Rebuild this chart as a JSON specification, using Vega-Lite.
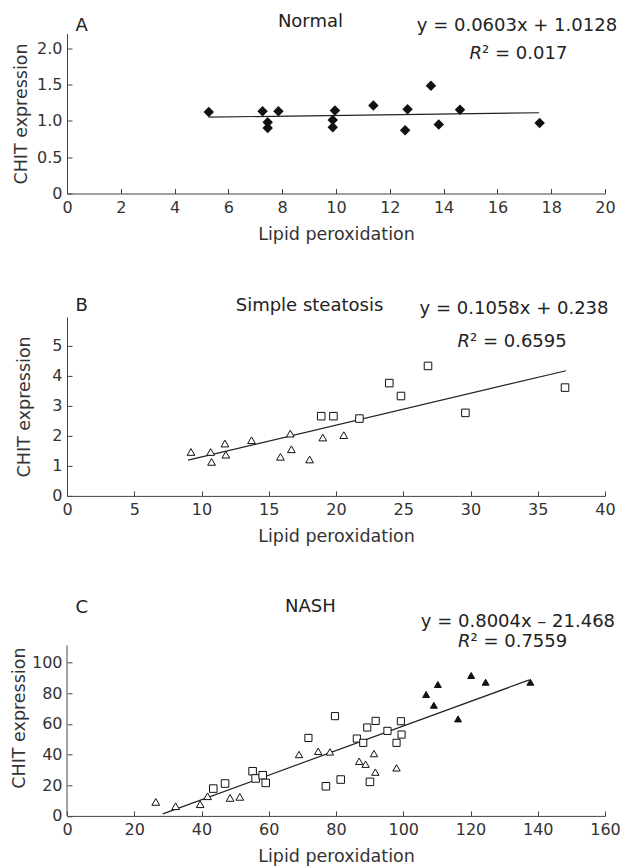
{
  "$schema": "https://vega.github.io/schema/vega-lite/v6.json",
  "background": "white",
  "padding": {"left": 10, "top": 12.5, "right": 0, "bottom": 0},
  "spacing": 123.4,
  "bounds": "flush",
  "config": {
    "font": "DejaVu Sans",
    "view": {"stroke": null},
    "axis": {
      "grid": false,
      "domainColor": "#444",
      "tickColor": "#444",
      "labelColor": "#333",
      "titleColor": "#333",
      "labelFont": "DejaVu Sans",
      "titleFont": "DejaVu Sans",
      "labelFontSize": 16,
      "titleFontSize": 17.5,
      "titleFontWeight": "normal",
      "tickSize": -5,
      "domainWidth": 1,
      "tickWidth": 1,
      "labelFlush": false,
      "labelOverlap": false
    },
    "axisX": {"labelPadding": 11, "titlePadding": 10},
    "axisY": {"labelPadding": 10}
  },
  "datasets": {
    "normal": [
      {"x": 5.27, "y": 1.12}, {"x": 7.27, "y": 1.13}, {"x": 7.46, "y": 0.98}, {"x": 7.46, "y": 0.9},
      {"x": 7.86, "y": 1.13}, {"x": 9.88, "y": 1.01}, {"x": 9.88, "y": 0.91}, {"x": 9.96, "y": 1.14},
      {"x": 11.39, "y": 1.21}, {"x": 12.57, "y": 0.87}, {"x": 12.66, "y": 1.16}, {"x": 13.53, "y": 1.48},
      {"x": 13.82, "y": 0.95}, {"x": 14.61, "y": 1.15}, {"x": 17.57, "y": 0.97}
    ],
    "fitA": [{"x": 5.27, "y": 1.05}, {"x": 17.55, "y": 1.11}],
    "notesA": [
      {"role": "letter", "x": 0.32, "y": 2.24, "t": "A"},
      {"role": "title", "x": 9.05, "y": 2.29, "t": "Normal"},
      {"role": "eq", "x": 20.45, "y": 2.24, "t": "y = 0.0603x + 1.0128"},
      {"role": "r", "x": 15.43, "y": 1.845, "t": "R"},
      {"role": "rest", "x": 15.43, "y": 1.845, "t": "² = 0.017"}
    ],
    "steatosis": [
      {"g": "tri", "x": 9.22, "y": 1.46}, {"g": "tri", "x": 10.68, "y": 1.46}, {"g": "tri", "x": 10.75, "y": 1.13},
      {"g": "tri", "x": 11.74, "y": 1.74}, {"g": "tri", "x": 11.81, "y": 1.37}, {"g": "tri", "x": 13.72, "y": 1.85},
      {"g": "tri", "x": 15.87, "y": 1.3}, {"g": "tri", "x": 16.6, "y": 2.07}, {"g": "tri", "x": 16.68, "y": 1.55},
      {"g": "tri", "x": 18.04, "y": 1.21}, {"g": "tri", "x": 19.02, "y": 1.94}, {"g": "tri", "x": 20.58, "y": 2.02},
      {"g": "sq", "x": 18.9, "y": 2.65}, {"g": "sq", "x": 19.81, "y": 2.65}, {"g": "sq", "x": 21.74, "y": 2.57},
      {"g": "sq", "x": 23.96, "y": 3.75}, {"g": "sq", "x": 24.83, "y": 3.32}, {"g": "sq", "x": 26.84, "y": 4.32},
      {"g": "sq", "x": 29.62, "y": 2.76}, {"g": "sq", "x": 37.03, "y": 3.6}
    ],
    "fitB": [{"x": 9.0, "y": 1.19}, {"x": 37.1, "y": 4.16}],
    "notesB": [
      {"role": "letter", "x": 0.63, "y": 6.14, "t": "B"},
      {"role": "title", "x": 18.03, "y": 6.16, "t": "Simple steatosis"},
      {"role": "eq", "x": 40.26, "y": 6.04, "t": "y = 0.1058x + 0.238"},
      {"role": "r", "x": 29.96, "y": 4.95, "t": "R"},
      {"role": "rest", "x": 29.96, "y": 4.95, "t": "² = 0.6595"}
    ],
    "nash": [
      {"g": "tri", "x": 26.4, "y": 9.1}, {"g": "tri", "x": 32.3, "y": 6.3}, {"g": "tri", "x": 39.6, "y": 7.6},
      {"g": "tri", "x": 41.8, "y": 12.8}, {"g": "tri", "x": 48.5, "y": 11.7}, {"g": "tri", "x": 51.4, "y": 12.4},
      {"g": "sq", "x": 43.5, "y": 17.8}, {"g": "sq", "x": 47.0, "y": 21.1}, {"g": "sq", "x": 55.2, "y": 29.1},
      {"g": "sq", "x": 56.1, "y": 24.4}, {"g": "sq", "x": 58.2, "y": 26.5}, {"g": "sq", "x": 59.1, "y": 21.5},
      {"g": "sq", "x": 77.0, "y": 19.3}, {"g": "sq", "x": 81.4, "y": 23.7}, {"g": "sq", "x": 90.1, "y": 22.2},
      {"g": "dia", "x": 69.0, "y": 40.0}, {"g": "dia", "x": 74.7, "y": 42.1}, {"g": "dia", "x": 78.2, "y": 41.7},
      {"g": "dia", "x": 86.9, "y": 35.6}, {"g": "dia", "x": 88.8, "y": 33.7}, {"g": "dia", "x": 91.3, "y": 40.6},
      {"g": "dia", "x": 91.7, "y": 28.5}, {"g": "dia", "x": 98.0, "y": 31.3},
      {"g": "circ", "x": 71.8, "y": 50.8}, {"g": "circ", "x": 79.7, "y": 65.0}, {"g": "circ", "x": 86.2, "y": 50.4},
      {"g": "circ", "x": 88.1, "y": 47.6}, {"g": "circ", "x": 89.3, "y": 57.6}, {"g": "circ", "x": 91.8, "y": 61.9},
      {"g": "circ", "x": 95.3, "y": 55.4}, {"g": "circ", "x": 99.3, "y": 61.7}, {"g": "circ", "x": 98.0, "y": 47.6},
      {"g": "circ", "x": 99.5, "y": 53.0},
      {"g": "ftri", "x": 106.8, "y": 79.1}, {"g": "ftri", "x": 109.1, "y": 72.1}, {"g": "ftri", "x": 110.3, "y": 85.6},
      {"g": "ftri", "x": 116.3, "y": 63.2}, {"g": "ftri", "x": 120.2, "y": 91.5}, {"g": "ftri", "x": 124.5, "y": 87.1},
      {"g": "ftri", "x": 137.8, "y": 87.1}
    ],
    "fitC": [{"x": 28.5, "y": 1.34}, {"x": 137.5, "y": 88.6}],
    "axisC": [{"x": 0, "y": 0, "y2": 111}],
    "notesC": [
      {"role": "letter", "x": 2.53, "y": 132.1, "t": "C"},
      {"role": "title", "x": 72.4, "y": 133.0, "t": "NASH"},
      {"role": "eq", "x": 163.0, "y": 123.3, "t": "y = 0.8004x – 21.468"},
      {"role": "r", "x": 120.0, "y": 109.9, "t": "R"},
      {"role": "rest", "x": 120.0, "y": 109.9, "t": "² = 0.7559"}
    ]
  },
  "vconcat": [
    {
      "width": 538,
      "height": 160,
      "encoding": {
        "x": {"field": "x", "type": "quantitative", "scale": {"domain": [0, 20]},
              "axis": {"values": [0, 2, 4, 6, 8, 10, 12, 14, 16, 18, 20], "title": "Lipid peroxidation"}},
        "y": {"field": "y", "type": "quantitative", "scale": {"domain": [0, 2.2]},
              "axis": {"values": [0, 0.5, 1, 1.5, 2], "labelExpr": "datum.value == 0 ? '0' : format(datum.value, '.1f')", "title": "CHIT expression", "titlePadding": 6}}
      },
      "layer": [
        {"data": {"name": "fitA"}, "mark": {"type": "line", "color": "#222", "strokeWidth": 1.2}},
        {"data": {"name": "normal"}, "mark": {"type": "point", "shape": "diamond", "filled": true, "color": "#111", "size": 110, "opacity": 1}},
        {"data": {"name": "notesA"}, "transform": [{"filter": "datum.role == 'letter'"}],
         "mark": {"type": "text", "fontSize": 18, "align": "left", "baseline": "alphabetic", "color": "#222"},
         "encoding": {"text": {"field": "t"}}},
        {"data": {"name": "notesA"}, "transform": [{"filter": "datum.role == 'title'"}],
         "mark": {"type": "text", "fontSize": 18, "align": "center", "baseline": "alphabetic", "color": "#222"},
         "encoding": {"text": {"field": "t"}}},
        {"data": {"name": "notesA"}, "transform": [{"filter": "datum.role == 'eq'"}],
         "mark": {"type": "text", "fontSize": 18, "align": "right", "baseline": "alphabetic", "color": "#222"},
         "encoding": {"text": {"field": "t"}}},
        {"data": {"name": "notesA"}, "transform": [{"filter": "datum.role == 'r'"}],
         "mark": {"type": "text", "fontSize": 18, "fontStyle": "italic", "align": "right", "baseline": "alphabetic", "color": "#222"},
         "encoding": {"text": {"field": "t"}}},
        {"data": {"name": "notesA"}, "transform": [{"filter": "datum.role == 'rest'"}],
         "mark": {"type": "text", "fontSize": 18, "align": "left", "baseline": "alphabetic", "color": "#222"},
         "encoding": {"text": {"field": "t"}}}
      ]
    },
    {
      "width": 538,
      "height": 179,
      "encoding": {
        "x": {"field": "x", "type": "quantitative", "scale": {"domain": [0, 40]},
              "axis": {"values": [0, 5, 10, 15, 20, 25, 30, 35, 40], "title": "Lipid peroxidation"}},
        "y": {"field": "y", "type": "quantitative", "scale": {"domain": [0, 5.95]},
              "axis": {"values": [0, 1, 2, 3, 4, 5], "title": "CHIT expression", "titlePadding": 18}}
      },
      "layer": [
        {"data": {"name": "fitB"}, "mark": {"type": "line", "color": "#222", "strokeWidth": 1.2}},
        {"data": {"name": "steatosis"}, "mark": {"type": "point", "filled": true, "fill": "white", "stroke": "#111", "strokeWidth": 1, "opacity": 1},
         "encoding": {
           "shape": {"field": "g", "type": "nominal", "scale": {"domain": ["tri", "sq"], "range": ["triangle-up", "square"]}, "legend": null},
           "size": {"field": "g", "type": "nominal", "scale": {"domain": ["tri", "sq"], "range": [60, 48]}, "legend": null}
         }},
        {"data": {"name": "notesB"}, "transform": [{"filter": "datum.role == 'letter'"}],
         "mark": {"type": "text", "fontSize": 18, "align": "left", "baseline": "alphabetic", "color": "#222"},
         "encoding": {"text": {"field": "t"}}},
        {"data": {"name": "notesB"}, "transform": [{"filter": "datum.role == 'title'"}],
         "mark": {"type": "text", "fontSize": 18, "align": "center", "baseline": "alphabetic", "color": "#222"},
         "encoding": {"text": {"field": "t"}}},
        {"data": {"name": "notesB"}, "transform": [{"filter": "datum.role == 'eq'"}],
         "mark": {"type": "text", "fontSize": 18, "align": "right", "baseline": "alphabetic", "color": "#222"},
         "encoding": {"text": {"field": "t"}}},
        {"data": {"name": "notesB"}, "transform": [{"filter": "datum.role == 'r'"}],
         "mark": {"type": "text", "fontSize": 18, "fontStyle": "italic", "align": "right", "baseline": "alphabetic", "color": "#222"},
         "encoding": {"text": {"field": "t"}}},
        {"data": {"name": "notesB"}, "transform": [{"filter": "datum.role == 'rest'"}],
         "mark": {"type": "text", "fontSize": 18, "align": "left", "baseline": "alphabetic", "color": "#222"},
         "encoding": {"text": {"field": "t"}}}
      ]
    },
    {
      "width": 538,
      "height": 196.6,
      "encoding": {
        "x": {"field": "x", "type": "quantitative", "scale": {"domain": [0, 160]},
              "axis": {"values": [0, 20, 40, 60, 80, 100, 120, 140, 160], "title": "Lipid peroxidation"}},
        "y": {"field": "y", "type": "quantitative", "scale": {"domain": [0, 128.1]},
              "axis": {"values": [0, 20, 40, 60, 80, 100], "title": "CHIT expression", "titlePadding": 3, "domain": false}}
      },
      "layer": [
        {"data": {"name": "axisC"}, "mark": {"type": "rule", "color": "#444", "strokeWidth": 1}, "encoding": {"y2": {"field": "y2"}}},
        {"data": {"name": "fitC"}, "mark": {"type": "line", "color": "#222", "strokeWidth": 1.2}},
        {"data": {"name": "nash"}, "mark": {"type": "point", "filled": true, "stroke": "#111", "strokeWidth": 1, "opacity": 1},
         "encoding": {
           "shape": {"field": "g", "type": "nominal", "scale": {"domain": ["tri", "sq", "dia", "circ", "ftri"], "range": ["triangle-up", "square", "diamond", "circle", "triangle-up"]}, "legend": null},
           "fill": {"field": "g", "type": "nominal", "scale": {"domain": ["tri", "sq", "dia", "circ", "ftri"], "range": ["white", "white", "white", "white", "#111"]}, "legend": null},
           "size": {"field": "g", "type": "nominal", "scale": {"domain": ["tri", "sq", "dia", "circ", "ftri"], "range": [60, 48, 60, 65, 90]}, "legend": null}
         }},
        {"data": {"name": "notesC"}, "transform": [{"filter": "datum.role == 'letter'"}],
         "mark": {"type": "text", "fontSize": 18, "align": "left", "baseline": "alphabetic", "color": "#222"},
         "encoding": {"text": {"field": "t"}}},
        {"data": {"name": "notesC"}, "transform": [{"filter": "datum.role == 'title'"}],
         "mark": {"type": "text", "fontSize": 18, "align": "center", "baseline": "alphabetic", "color": "#222"},
         "encoding": {"text": {"field": "t"}}},
        {"data": {"name": "notesC"}, "transform": [{"filter": "datum.role == 'eq'"}],
         "mark": {"type": "text", "fontSize": 18, "align": "right", "baseline": "alphabetic", "color": "#222"},
         "encoding": {"text": {"field": "t"}}},
        {"data": {"name": "notesC"}, "transform": [{"filter": "datum.role == 'r'"}],
         "mark": {"type": "text", "fontSize": 18, "fontStyle": "italic", "align": "right", "baseline": "alphabetic", "color": "#222"},
         "encoding": {"text": {"field": "t"}}},
        {"data": {"name": "notesC"}, "transform": [{"filter": "datum.role == 'rest'"}],
         "mark": {"type": "text", "fontSize": 18, "align": "left", "baseline": "alphabetic", "color": "#222"},
         "encoding": {"text": {"field": "t"}}}
      ]
    }
  ]
}
